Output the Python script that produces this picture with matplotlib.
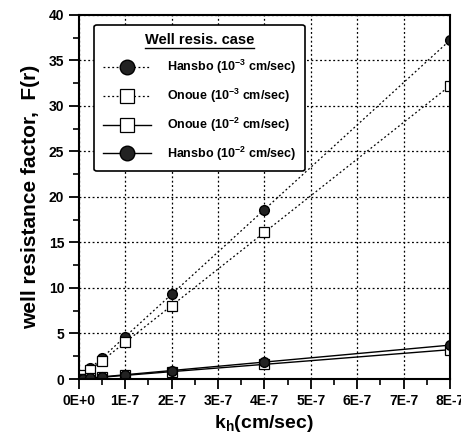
import matplotlib
matplotlib.use('Agg')
import matplotlib.pyplot as plt
from matplotlib.ticker import MultipleLocator, FuncFormatter
from matplotlib.lines import Line2D

plt.rcParams['font.family'] = ['Liberation Sans', 'DejaVu Sans']
plt.rcParams['font.weight'] = 'bold'
plt.rcParams['mathtext.fontset'] = 'custom'
plt.rcParams['mathtext.rm'] = 'Liberation Sans:bold'
plt.rcParams['mathtext.bf'] = 'Liberation Sans:bold'
plt.rcParams['mathtext.default'] = 'bf'

# permeability kh (cm/sec)
kh = [0.0, 0.1e-7, 0.25e-7, 0.5e-7, 1e-7, 2e-7, 4e-7, 8e-7]

# well resistance factor F(r)
hansbo_3 = [0.0, 0.47, 1.16, 2.33, 4.65, 9.3, 18.6, 37.2]
onoue_3 = [0.0, 0.40, 1.0, 2.01, 4.03, 8.05, 16.1, 32.2]
onoue_2 = [0.0, 0.04, 0.10, 0.20, 0.40, 0.81, 1.61, 3.22]
hansbo_2 = [0.0, 0.05, 0.12, 0.23, 0.47, 0.93, 1.86, 3.72]

labels = ['Hansbo (10$^{-3}$ cm/sec)', 'Onoue (10$^{-3}$ cm/sec)',
          'Onoue (10$^{-2}$ cm/sec)', 'Hansbo (10$^{-2}$ cm/sec)']

fig = plt.figure(figsize=(4.61, 4.48), dpi=100)
ax = fig.add_axes([0.171, 0.154, 0.805, 0.813])

circ = dict(marker='o', ms=7, mfc='#222222', mec='black', mew=1.0)
sq = dict(marker='s', ms=7, mfc='white', mec='black', mew=0.9)

ax.plot(kh, hansbo_3, ls=(0, (1.5, 2)), color='black', lw=0.9, label=labels[0], **circ)
ax.plot(kh, onoue_3, ls=(0, (1.5, 2)), color='black', lw=0.9, label=labels[1], **sq)
ax.plot(kh, onoue_2, ls='-', color='black', lw=1.0, label=labels[2], **sq)
ax.plot(kh, hansbo_2, ls='-', color='black', lw=1.0, label=labels[3], **circ)

ax.set_xlim(0, 8e-7)
ax.set_ylim(0, 40)
ax.xaxis.set_major_locator(MultipleLocator(1e-7))
ax.xaxis.set_minor_locator(MultipleLocator(0.5e-7))
ax.yaxis.set_major_locator(MultipleLocator(5))
ax.yaxis.set_minor_locator(MultipleLocator(2.5))

def xfmt(v, pos):
    n = int(round(v / 1e-7))
    return '0E+0' if n == 0 else '%dE-7' % n

ax.xaxis.set_major_formatter(FuncFormatter(xfmt))
ax.tick_params(which='major', direction='out', length=7, width=1.3, labelsize=10)
ax.tick_params(which='minor', direction='out', length=4, width=1.2)
for t in ax.get_xticklabels() + ax.get_yticklabels():
    t.set_fontweight('bold')

ax.grid(True, which='major', ls=(0, (1.5, 2.0)), color='black', lw=0.9)
for s in ax.spines.values():
    s.set_linewidth(1.5)

ax.set_ylabel('well resistance factor,  F(r)', fontsize=15, fontweight='bold', labelpad=6)
ax.set_xlabel('k$_h$(cm/sec)', fontsize=14, fontweight='bold', labelpad=4)

leg = ax.legend(loc='upper left', title='Well resis. case', fontsize=9,
                title_fontsize=10.5, frameon=True, fancybox=True, edgecolor='black',
                framealpha=1, borderpad=0.7, labelspacing=0.85, handlelength=3.8,
                handletextpad=1.3, markerscale=1.5, bbox_to_anchor=(0.025, 0.99))
leg.get_frame().set_linewidth(1.2)
leg.get_title().set_fontweight('bold')

# underline the legend title
fig.canvas.draw()
bb = leg.get_title().get_window_extent().transformed(fig.transFigure.inverted())
fig.add_artist(Line2D([bb.x0, bb.x1], [bb.y0 - 0.002, bb.y0 - 0.002],
                      transform=fig.transFigure, color='black', lw=1.0))

fig.savefig('out.png', dpi=100)
